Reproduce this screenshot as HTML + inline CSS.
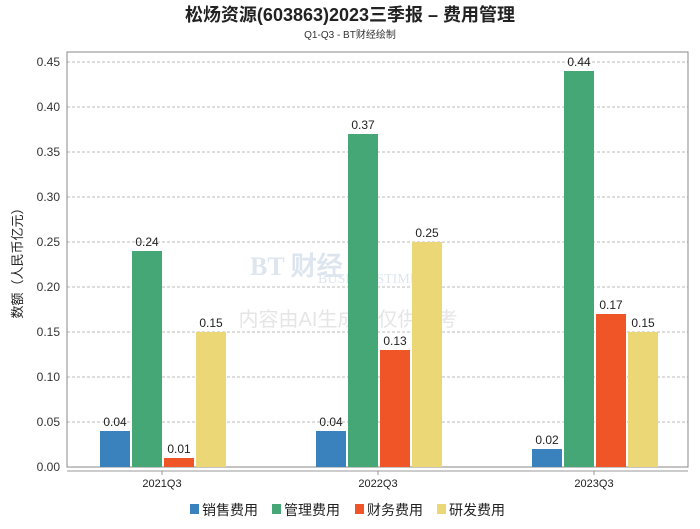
<!DOCTYPE html>
<html><head><meta charset="utf-8"><style>
body{margin:0;background:#fff;font-family:"Liberation Sans","Noto Sans CJK SC",sans-serif;}
</style></head><body>
<svg width="700" height="524" xmlns="http://www.w3.org/2000/svg" style="font-family:'Liberation Sans','Noto Sans CJK SC',sans-serif">
<text x="350" y="21" text-anchor="middle" font-size="18" font-weight="bold" fill="#222">松炀资源(603863)2023三季报 – 费用管理</text>
<text x="350" y="38" text-anchor="middle" font-size="10" fill="#333">Q1-Q3 - BT财经绘制</text>
<g opacity="0.25">
<text x="250" y="275" font-size="26" font-weight="bold" fill="#7a9bc0" font-family="Liberation Serif,serif">BT 财经</text>
<text x="318" y="283" font-size="14" fill="#7a9bc0" font-family="Liberation Serif,serif">BUSINESSTIMES</text>
<text x="348" y="326" text-anchor="middle" font-size="20" fill="#999">内容由AI生成，仅供参考</text>
</g>
<g id="grid"></g>
<rect x="67" y="52" width="621" height="415" fill="none" stroke="#888"/>
<line x1="67" y1="471" x2="688" y2="471" stroke="#999"/>
<g id="bars"></g>
<g id="xlabels"></g>
<text transform="translate(22,260) rotate(-90)" text-anchor="middle" font-size="13" fill="#222">数额（人民币亿元）</text>
<g id="legend"></g>
</svg>
<script>
const categories=["2021Q3","2022Q3","2023Q3"];
const seriesNames=["销售费用","管理费用","财务费用","研发费用"];
const xiaoshou=[0.04,0.04,0.02];
const guanli=[0.24,0.37,0.44];
const caiwu=[0.01,0.13,0.17];
const yanfa=[0.15,0.25,0.15];
const yTicks=[0,0.05,0.10,0.15,0.20,0.25,0.30,0.35,0.40,0.45];
const colors=["#3a82be","#45a776","#f05527","#ecd777"];
const series=[xiaoshou,guanli,caiwu,yanfa];
const NS="http://www.w3.org/2000/svg";
const y0=467,yMax=0.45,yTop=62;
const yS=v=>y0-(v/yMax)*(y0-yTop);
const xC=i=>162+i*216;
function mk(t,a,p){const e=document.createElementNS(NS,t);for(const k in a)e.setAttribute(k,a[k]);p.appendChild(e);return e;}
const g=document.getElementById('grid');
yTicks.forEach(v=>{
 if(v>0){const l=mk('line',{x1:67,x2:688,y1:yS(v),y2:yS(v),stroke:'#bbb','stroke-dasharray':'3,2'},g);
 
 }
 const t=mk('text',{x:60,y:yS(v)+4,'text-anchor':'end','font-size':12,fill:'#333'},g);
 
 
 t.textContent=v.toFixed(2);
});
const b=document.getElementById('bars');
series.forEach((s,si)=>{s.forEach((v,ci)=>{
 const x=xC(ci)-62+si*32;
 const r=mk('rect',{x:x,y:yS(v),width:30,height:y0-yS(v),fill:colors[si]},b);
 
 
 const t=mk('text',{x:x+15,y:yS(v)-5,'text-anchor':'middle','font-size':12,fill:'#222'},b);
 
 
 t.textContent=v.toFixed(2);
});});
const xl=document.getElementById('xlabels');
categories.forEach((c,i)=>{
 mk('line',{x1:xC(i),x2:xC(i),y1:471,y2:475,stroke:'#999'},xl);
 const t=mk('text',{x:xC(i),y:487,'text-anchor':'middle','font-size':11,fill:'#222'},xl);
 
 
 t.textContent=c;
});
const lg=document.getElementById('legend');
const lx=[190,272,355,437];
seriesNames.forEach((n,i)=>{
 const r=mk('rect',{x:lx[i],y:504,width:9,height:10,fill:colors[i]},lg);
 
 
 const t=mk('text',{x:lx[i]+12,y:515,'font-size':14,fill:'#222'},lg);
 
 
 t.textContent=n;
});
</script>
</body></html>
